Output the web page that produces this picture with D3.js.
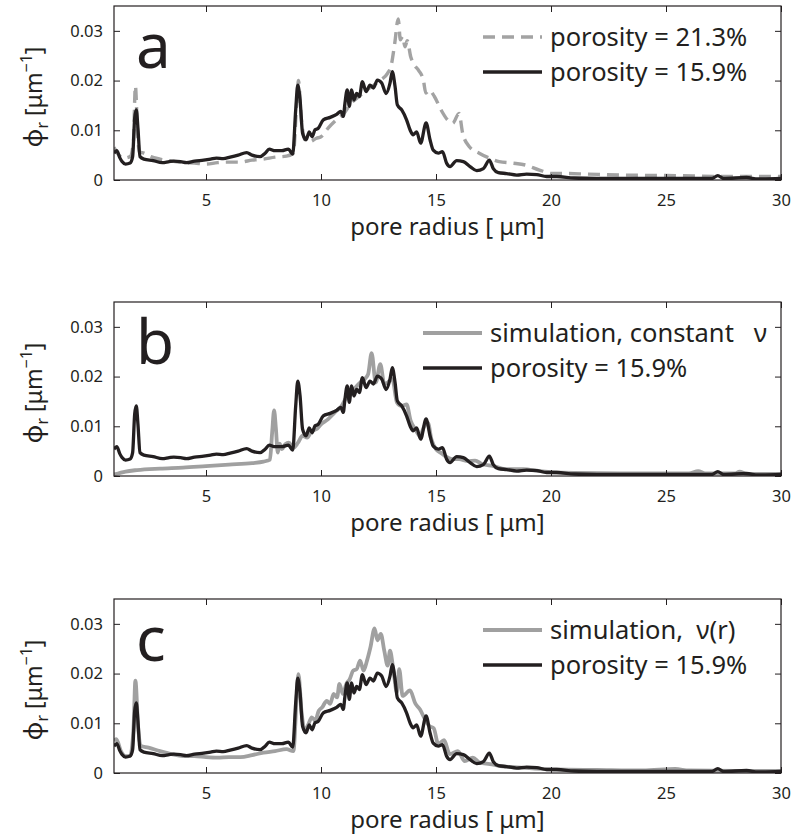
<!DOCTYPE html>
<html>
<head>
<meta charset="utf-8">
<script src="https://cdn.jsdelivr.net/npm/d3@7"></script>
<style>
  body { margin: 0; background: white; }
  text { font-family: "Noto Sans", "Open Sans", sans-serif; fill: #231f20; }
</style>
</head>
<body>
<div id="chart"></div>
<script>
var w = 792;
var h = 838;

// data: [pore radius (um), phi_r (1/um)]
var poro159 = [[1.0,0.0054],[1.12,0.0059],[1.25,0.0045],[1.35,0.0037],[1.5,0.0032],[1.7,0.0034],[1.81,0.0047],[1.9,0.0125],[1.97,0.0141],[2.04,0.0105],[2.13,0.0047],[2.3,0.0042],[2.7,0.0039],[3.1,0.0035],[3.4,0.0037],[3.6,0.0038],[3.9,0.0037],[4.15,0.0035],[4.5,0.0038],[4.9,0.0040],[5.2,0.0042],[5.45,0.0044],[5.75,0.0043],[6.05,0.0046],[6.4,0.0050],[6.77,0.0055],[7.0,0.0050],[7.35,0.0047],[7.57,0.0054],[7.75,0.0062],[8.0,0.0059],[8.3,0.0059],[8.58,0.0062],[8.77,0.0052],[8.9,0.0141],[8.99,0.0191],[9.09,0.0161],[9.2,0.0094],[9.35,0.0081],[9.49,0.0097],[9.61,0.0087],[9.74,0.0101],[9.88,0.0104],[10.1,0.0121],[10.4,0.0126],[10.68,0.0132],[10.86,0.0138],[10.97,0.0128],[11.04,0.0154],[11.14,0.0181],[11.23,0.0148],[11.33,0.0181],[11.43,0.0161],[11.55,0.0174],[11.67,0.0168],[11.8,0.0198],[11.96,0.0178],[12.13,0.0191],[12.28,0.0185],[12.45,0.0201],[12.64,0.0195],[12.83,0.0174],[13.0,0.0195],[13.1,0.0218],[13.22,0.0188],[13.32,0.0151],[13.51,0.0141],[13.72,0.0121],[13.87,0.0101],[14.01,0.0091],[14.16,0.0097],[14.33,0.0074],[14.57,0.0115],[14.74,0.0081],[14.88,0.0060],[15.1,0.0054],[15.28,0.0057],[15.46,0.0034],[15.61,0.0027],[15.9,0.0039],[16.19,0.0037],[16.48,0.0027],[16.77,0.0019],[17.06,0.0023],[17.32,0.0040],[17.49,0.0023],[17.71,0.0015],[18.07,0.0013],[18.51,0.0010],[18.94,0.0012],[19.38,0.0011],[19.81,0.0007],[20.25,0.0007],[21,0.0004],[22,0.0003],[23,0.0003],[24,0.0003],[25,0.0003],[26,0.0003],[27,0.0003],[27.25,0.0009],[27.5,0.0003],[28.5,0.0005],[29,0.0002],[30,0.0003]];

var poro213 = [[1.0,0.0066],[1.15,0.0054],[1.4,0.0044],[1.7,0.0047],[1.84,0.0075],[1.93,0.0189],[2.02,0.0100],[2.1,0.0057],[2.3,0.0054],[2.6,0.0047],[3.0,0.0042],[3.5,0.0038],[4.0,0.0035],[4.5,0.0034],[5.0,0.0032],[5.5,0.0035],[6.0,0.0036],[6.5,0.0036],[7.0,0.0040],[7.5,0.0042],[8.0,0.0046],[8.5,0.0048],[8.8,0.0054],[8.95,0.0161],[9.02,0.0200],[9.15,0.0121],[9.3,0.0081],[9.5,0.0077],[9.8,0.0084],[10.0,0.0087],[10.3,0.0104],[10.6,0.0118],[11.0,0.0134],[11.3,0.0154],[11.6,0.0166],[12.0,0.0181],[12.3,0.0191],[12.6,0.0201],[12.9,0.0215],[13.05,0.0230],[13.2,0.0273],[13.36,0.0324],[13.45,0.0282],[13.55,0.0289],[13.65,0.0268],[13.75,0.0280],[13.9,0.0248],[14.05,0.0232],[14.25,0.0220],[14.45,0.0201],[14.56,0.0175],[14.7,0.0181],[14.93,0.0168],[15.22,0.0141],[15.5,0.0121],[15.72,0.0114],[16.0,0.0134],[16.16,0.0094],[16.45,0.0067],[16.88,0.0054],[17.32,0.0044],[17.75,0.0037],[18.33,0.0034],[18.9,0.0030],[19.5,0.0020],[20.07,0.0013],[20.65,0.0013],[21.5,0.0012],[23,0.0010],[25,0.0009],[28,0.0007],[30,0.0007]];

var simConst = [[1.0,0.0003],[1.5,0.0009],[2.0,0.0012],[3.0,0.0015],[4.0,0.0017],[5.0,0.0020],[6.0,0.0023],[7.0,0.0026],[7.5,0.0029],[7.78,0.0033],[7.88,0.0090],[7.96,0.0132],[8.04,0.0095],[8.12,0.0047],[8.2,0.0065],[8.3,0.0054],[8.45,0.0064],[8.6,0.0067],[8.8,0.0057],[9.0,0.0067],[9.2,0.0081],[9.4,0.0077],[9.6,0.0091],[9.8,0.0094],[10.0,0.0104],[10.3,0.0114],[10.6,0.0128],[10.9,0.0141],[11.1,0.0158],[11.3,0.0168],[11.5,0.0178],[11.7,0.0188],[11.9,0.0195],[12.05,0.0205],[12.2,0.0247],[12.38,0.0188],[12.58,0.0225],[12.75,0.0185],[12.9,0.0188],[13.1,0.0195],[13.3,0.0148],[13.5,0.0141],[13.72,0.0144],[13.9,0.0111],[14.1,0.0094],[14.3,0.0081],[14.5,0.0101],[14.65,0.0107],[14.8,0.0074],[15.0,0.0054],[15.2,0.0047],[15.4,0.0040],[15.7,0.0034],[16.0,0.0034],[16.4,0.0030],[16.7,0.0031],[17.0,0.0024],[17.5,0.0020],[18.0,0.0014],[18.8,0.0014],[19.5,0.0010],[20.0,0.0008],[21,0.0006],[23,0.0005],[25,0.0005],[26.0,0.0005],[26.4,0.0010],[26.7,0.0005],[28.0,0.0005],[28.2,0.0009],[28.5,0.0004],[30,0.0004]];

var simVar = [[1.0,0.0065],[1.1,0.0068],[1.3,0.0044],[1.5,0.0034],[1.7,0.0034],[1.85,0.0092],[1.93,0.0186],[2.05,0.0092],[2.15,0.0055],[2.5,0.0051],[3.0,0.0044],[3.5,0.0038],[4.0,0.0034],[4.5,0.0034],[5.0,0.0032],[5.5,0.0031],[6.0,0.0032],[6.5,0.0032],[7.0,0.0036],[7.5,0.0041],[8.0,0.0044],[8.5,0.0048],[8.8,0.0044],[8.95,0.0159],[9.02,0.0199],[9.15,0.0125],[9.3,0.0085],[9.45,0.0098],[9.6,0.0112],[9.75,0.0105],[9.9,0.0125],[10.05,0.0132],[10.25,0.0145],[10.4,0.0139],[10.55,0.0159],[10.7,0.0152],[10.8,0.0179],[10.95,0.0159],[11.1,0.0179],[11.25,0.0189],[11.4,0.0206],[11.55,0.0209],[11.7,0.0226],[11.85,0.0206],[12.0,0.0226],[12.15,0.0253],[12.33,0.0291],[12.45,0.0267],[12.6,0.0280],[12.75,0.0246],[12.9,0.0216],[13.0,0.0246],[13.15,0.0206],[13.3,0.0162],[13.4,0.0209],[13.55,0.0155],[13.87,0.0166],[14.1,0.0140],[14.3,0.0128],[14.5,0.0110],[14.7,0.0095],[14.9,0.0090],[15.1,0.0058],[15.35,0.0066],[15.6,0.0038],[15.95,0.0044],[16.25,0.0024],[16.6,0.0031],[16.9,0.0021],[17.35,0.0018],[17.8,0.0014],[18.4,0.0012],[19.3,0.0009],[20.2,0.0007],[22,0.0006],[24,0.0005],[25.4,0.0008],[26,0.0005],[28,0.0004],[30,0.0004]];

var xTicks = [5, 10, 15, 20, 25, 30];
var yTicks = [0, 0.01, 0.02, 0.03];
var yTickLabels = ["0", "0.01", "0.02", "0.03"];
var panelLetters = ["a", "b", "c"];
var legendLabels = [
    ["porosity = 21.3%", "porosity = 15.9%"],
    ["simulation, constant   \u03bd", "porosity = 15.9%"],
    ["simulation,  \u03bd(r)", "porosity = 15.9%"]
];
var panelSeries = [
    [poro213, poro159],
    [simConst, poro159],
    [simVar, poro159]
];

// layout
var left = 114, right = 781;
var panelTops = [6, 302, 599];
var ph = 174;
var legendX = [483, 423, 483];
var gray = "#a0a0a0", black = "#231f20";

var canvas = d3.select("#chart").append("svg")
    .attr("width", w)
    .attr("height", h);

var x = d3.scaleLinear().domain([1, 30]).range([left, right]);

var line = d3.line()
    .x(function(d) { return x(d[0]); })
    .curve(d3.curveMonotoneX);

panelTops.forEach(function(top, p) {
    var y = d3.scaleLinear().domain([0, 0.035]).range([top + ph, top]);
    line.y(function(d) { return y(d[1]); });

    var g = canvas.append("g");

    // clip so lines stay in the box
    canvas.append("clipPath").attr("id", "clip" + p)
        .append("rect").attr("x", left).attr("y", top)
        .attr("width", right - left).attr("height", ph);

    var styles = [
        { stroke: p === 0 ? "#a3a3a3" : gray, width: p === 0 ? 3.4 : 3.8, dash: p === 0 ? "12,7" : null },
        { stroke: black, width: 3.3, dash: null }
    ];

    panelSeries[p].forEach(function(series, i) {
        g.append("path")
            .datum(series)
            .attr("clip-path", "url(#clip" + p + ")")
            .attr("fill", "none")
            .attr("stroke", styles[i].stroke)
            .attr("stroke-width", styles[i].width)
            .attr("stroke-dasharray", styles[i].dash)
            .attr("stroke-linejoin", "round")
            .attr("d", line);
    });

    // axes, ticks pointing inward
    g.append("g").attr("transform", "translate(0," + (top + ph) + ")")
        .call(d3.axisBottom(x).tickValues(xTicks).tickSize(-6).tickPadding(14));
    g.append("g").attr("transform", "translate(0," + top + ")")
        .call(d3.axisTop(x).tickValues(xTicks).tickSize(-6).tickFormat(""));
    g.append("g").attr("transform", "translate(" + left + ",0)")
        .call(d3.axisLeft(y).tickValues(yTicks).tickSize(-6).tickPadding(11)
            .tickFormat(function(d, i) { return yTickLabels[i]; }));
    g.append("g").attr("transform", "translate(" + right + ",0)")
        .call(d3.axisRight(y).tickValues(yTicks).tickSize(-6).tickFormat(""));

    g.selectAll(".domain").remove();
    g.selectAll(".tick line").attr("stroke", black).attr("stroke-width", 1);
    g.selectAll(".tick text").style("font-size", "16.5px").attr("fill", black);

    g.append("rect")
        .attr("x", left).attr("y", top)
        .attr("width", right - left).attr("height", ph)
        .attr("fill", "none").attr("stroke", black).attr("stroke-width", 1.2);

    // panel letter
    g.append("text")
        .attr("x", 136).attr("y", top + 62)
        .style("font-size", "62px")
        .text(panelLetters[p]);

    // legend
    legendLabels[p].forEach(function(lab, i) {
        var ly = top + 31 + i * 35;
        g.append("line")
            .attr("x1", legendX[p]).attr("x2", legendX[p] + 59)
            .attr("y1", ly).attr("y2", ly)
            .attr("stroke", styles[i].stroke)
            .attr("stroke-width", styles[i].width)
            .attr("stroke-dasharray", styles[i].dash);
        g.append("text")
            .attr("x", legendX[p] + 67).attr("y", ly + 9)
            .style("font-size", "25.5px")
            .style("white-space", "pre")
            .text(lab);
    });

    // x label
    g.append("text")
        .attr("x", (left + right) / 2).attr("y", top + ph + 55)
        .attr("text-anchor", "middle")
        .style("font-size", "24px")
        .style("white-space", "pre")
        .text("pore radius [ \u03bcm]");

    // y label
    var yl = g.append("text")
        .attr("transform", "translate(42," + (top + 91) + ") rotate(-90)")
        .attr("text-anchor", "middle")
        .style("font-size", "23px");
    yl.append("tspan").style("font-size", "26px").text("\u03d5");
    yl.append("tspan").attr("dy", 6).style("font-size", "16px").text("r");
    yl.append("tspan").attr("dy", -6).text(" [\u03bcm");
    yl.append("tspan").attr("dy", -10).style("font-size", "16px").text("\u22121");
    yl.append("tspan").attr("dy", 10).text("]");
});
</script>
</body>
</html>
